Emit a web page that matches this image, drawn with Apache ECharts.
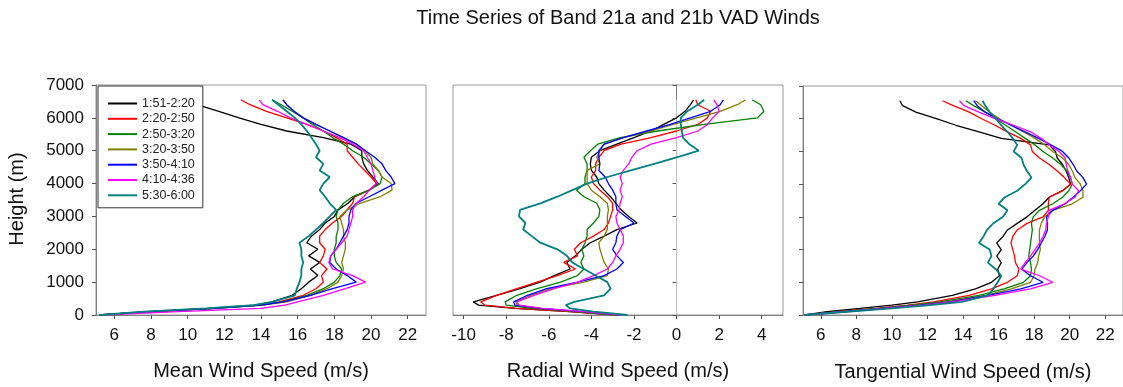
<!DOCTYPE html>
<html>
<head>
<meta charset="utf-8">
<script src="https://cdn.jsdelivr.net/npm/echarts@6/dist/echarts.min.js"></script>
<style>
html,body{margin:0;padding:0;background:#fff;}
#chart{width:1123px;height:387px;}
</style>
</head>
<body>
<div id="chart"></div>
<script>
// Heights (m), top to bottom
const HEIGHTS = [6550, 6400, 6200, 6000, 5800, 5600, 5400, 5200, 5000, 4800, 4600, 4400, 4200, 4000, 3800, 3600, 3400, 3200, 3000, 2800, 2600, 2400, 2200, 2000, 1800, 1600, 1400, 1200, 1000, 800, 600, 400, 300, 200, 100, 0];
const NAMES = ['1:51-2:20', '2:20-2:50', '2:50-3:20', '3:20-3:50', '3:50-4:10', '4:10-4:36', '5:30-6:00'];
const COLORS = ['#000000', '#ff0000', '#008000', '#808000', '#0000ff', '#ff00ff', '#008080'];

const TICKS_SPEED = [6, 8, 10, 12, 14, 16, 18, 20, 22];
const TICKS_RADIAL = [-10, -8, -6, -4, -2, 0, 2, 4];

// Mean wind speed (m/s)
const meanA = [9.7, 10.5, 11.7, 12.8, 14.0, 15.4, 17.4, 18.9, 19.5, 19.5, 19.6, 19.8, 20.1, 20.4, 19.9, 19.1, 18.75, 18.2, 18.0, 17.5, 17.2, 16.75, 16.5, 17.1, 16.6, 17.2, 16.7, 17.1, 16.6, 16.2, 15.7, 14.6, 13.7, 11.1, 7.8, 5.2];
const meanB = [12.9, 13.4, 14.3, 15.4, 16.5, 17.4, 18.1, 18.7, 18.7, 19.0, 19.3, 19.65, 20.0, 20.3, 19.9, 19.1, 19.0, 18.7, 18.4, 17.9, 17.5, 17.2, 17.2, 17.5, 17.4, 17.2, 17.6, 17.3, 17.4, 17.0, 16.3, 15.0, 13.9, 11.3, 8.0, 5.2];
const meanC = [14.6, 15.1, 15.7, 16.3, 16.8, 17.4, 17.9, 18.5, 19.0, 19.6, 20.0, 20.4, 20.6, 20.5, 19.9, 19.0, 18.5, 18.2, 18.1, 18.2, 18.2, 18.1, 18.1, 18.0, 18.0, 18.1, 18.4, 18.3, 18.0, 17.4, 16.5, 15.2, 14.0, 11.5, 8.1, 5.2];
const meanD = [15.2, 15.4, 15.8, 16.3, 17.0, 17.75, 18.5, 19.2, 19.65, 20.0, 20.1, 20.4, 20.6, 21.1, 21.15, 20.5, 19.4, 18.7, 18.3, 18.4, 18.5, 18.5, 18.6, 18.6, 18.5, 18.4, 18.5, 18.4, 18.2, 17.6, 16.7, 15.4, 14.1, 11.6, 8.3, 5.2];
const meanE = [15.2, 15.4, 15.8, 16.3, 17.0, 17.75, 18.5, 19.2, 19.7, 20.2, 20.6, 20.8, 21.1, 21.3, 20.6, 19.9, 19.2, 18.9, 18.8, 18.8, 18.7, 18.5, 18.3, 18.1, 17.8, 17.75, 18.1, 18.7, 19.2, 17.9, 16.7, 15.2, 14.0, 11.5, 8.0, 5.2];
const meanF = [13.9, 14.1, 14.9, 15.6, 16.5, 17.4, 18.3, 19.0, 19.6, 19.8, 20.0, 20.1, 20.2, 20.3, 19.9, 19.6, 19.2, 19.0, 19.0, 18.9, 18.8, 18.7, 18.4, 18.1, 17.8, 17.7, 17.9, 19.0, 19.7, 18.6, 17.4, 16.0, 15.3, 14.0, 9.5, 5.2];
const meanG = [14.6, 14.95, 15.4, 15.85, 16.2, 16.5, 16.75, 17.0, 17.2, 17.0, 17.4, 17.2, 17.75, 17.4, 17.2, 17.5, 17.75, 18.1, 17.75, 17.4, 17.0, 16.6, 16.1, 16.2, 16.2, 16.3, 16.2, 16.2, 16.1, 15.95, 15.85, 14.6, 13.6, 11.0, 7.6, 5.2];

// Radial wind speed (m/s)
const radA = [0.8, 0.65, 0.4, 0.0, -0.6, -1.2, -2.0, -2.8, -3.6, -4.0, -4.05, -4.0, -3.75, -3.65, -3.4, -3.1, -2.85, -2.6, -2.25, -1.85, -2.8, -3.4, -4.05, -4.45, -4.75, -5.15, -5.0, -5.75, -6.4, -7.35, -8.45, -9.55, -9.3, -7.6, -5.0, -2.8];
const radB = [0.9, 1.0, 1.6, 1.45, 1.0, 0.0, -1.2, -2.6, -3.4, -3.65, -3.8, -3.8, -4.0, -3.9, -3.6, -3.25, -3.0, -3.0, -3.1, -3.2, -3.4, -3.9, -4.5, -4.8, -4.65, -5.3, -4.75, -5.6, -6.55, -7.5, -8.45, -9.2, -9.0, -7.5, -5.0, -2.8];
const radC = [3.55, 3.95, 4.1, 3.8, 1.3, -0.9, -2.65, -3.7, -4.05, -4.35, -4.2, -4.2, -4.3, -4.3, -4.7, -4.35, -3.75, -3.6, -3.65, -3.9, -4.2, -4.2, -4.3, -4.45, -4.35, -4.5, -4.35, -4.65, -5.45, -6.55, -7.5, -8.05, -8.0, -6.8, -4.7, -2.8];
const radD = [3.25, 2.85, 2.05, 0.95, -0.15, -1.2, -2.5, -3.4, -3.6, -3.75, -3.6, -4.2, -4.2, -4.2, -4.0, -3.6, -3.25, -3.2, -3.25, -3.25, -3.25, -3.4, -3.65, -3.6, -3.5, -3.4, -3.2, -3.25, -4.35, -5.9, -6.85, -7.55, -7.5, -6.5, -4.5, -2.8];
const radE = [2.2, 2.05, 1.6, 0.65, -0.3, -1.4, -2.5, -3.4, -3.65, -3.65, -3.6, -3.65, -3.35, -3.2, -3.0, -2.85, -2.85, -2.8, -2.4, -2.0, -2.65, -2.8, -2.85, -3.0, -2.8, -2.5, -2.8, -3.4, -4.65, -6.1, -7.0, -7.65, -7.6, -6.4, -4.4, -2.6];
const radF = [1.75, 1.9, 2.0, 1.7, 1.45, 1.0, 0.0, -1.2, -1.85, -2.1, -2.25, -2.5, -2.65, -2.55, -2.65, -2.55, -2.65, -2.7, -2.85, -2.8, -2.65, -2.5, -2.5, -2.65, -2.85, -3.0, -3.25, -3.9, -4.65, -5.75, -6.7, -7.5, -7.4, -6.3, -4.3, -2.6];
const radG = [1.3, 1.0, 0.5, 0.2, 0.2, 0.25, 0.3, 0.6, 1.05, 0.0, -1.05, -2.15, -3.25, -4.2, -4.9, -5.6, -6.4, -7.35, -7.4, -7.1, -7.2, -6.8, -6.4, -5.6, -5.15, -4.9, -4.35, -3.8, -3.25, -3.1, -3.4, -4.8, -5.2, -5.0, -3.9, -2.3];
// zero reference line of the radial panel: [x, bottom height, top height]
const RADIAL_ZERO = [0, 0, 6550];

// Tangential wind speed (m/s)
const tanA = [10.45, 10.6, 11.35, 12.5, 13.6, 14.9, 16.15, 18.85, 19.2, 19.3, 19.6, 19.8, 19.95, 20.05, 19.6, 18.85, 18.5, 18.05, 17.6, 17.05, 16.5, 16.25, 15.9, 16.15, 15.9, 16.15, 15.95, 16.05, 15.6, 14.7, 13.4, 11.45, 10.0, 8.2, 6.35, 5.1];
const tanB = [12.85, 13.45, 14.35, 15.05, 15.8, 16.5, 17.25, 17.8, 17.9, 18.3, 18.85, 19.3, 19.7, 20.05, 19.6, 18.85, 18.8, 18.8, 18.5, 17.6, 17.05, 16.8, 16.7, 16.8, 16.9, 16.95, 17.15, 17.05, 16.5, 15.6, 14.35, 12.35, 10.9, 9.1, 6.9, 5.1];
const tanC = [14.15, 14.6, 15.25, 15.85, 16.4, 16.95, 17.5, 18.05, 18.5, 19.05, 19.5, 19.85, 20.05, 20.15, 19.95, 19.6, 19.05, 18.3, 17.95, 17.85, 17.9, 17.85, 17.8, 17.75, 17.7, 17.8, 17.85, 17.8, 17.4, 16.3, 14.9, 12.7, 11.1, 9.25, 7.1, 5.1];
const tanD = [14.7, 15.05, 15.5, 16.05, 16.7, 17.4, 18.05, 18.6, 19.05, 19.6, 19.95, 20.15, 20.3, 20.6, 20.75, 20.75, 20.15, 19.05, 18.6, 18.4, 18.3, 18.3, 18.3, 18.35, 18.25, 18.2, 18.05, 18.0, 17.8, 16.7, 15.25, 13.05, 11.45, 9.45, 7.25, 5.1];
const tanE = [14.6, 14.8, 15.25, 15.95, 16.7, 17.5, 18.25, 18.95, 19.6, 19.95, 20.2, 20.4, 20.75, 20.95, 20.6, 20.2, 19.75, 19.05, 18.7, 18.75, 18.75, 18.6, 18.4, 18.2, 17.95, 17.6, 17.3, 17.8, 18.5, 17.25, 15.4, 13.25, 11.6, 9.45, 7.25, 5.1];
const tanF = [13.8, 14.05, 14.9, 15.8, 16.85, 17.8, 18.4, 18.85, 19.4, 19.75, 19.8, 19.9, 20.05, 20.15, 20.5, 20.3, 19.7, 18.85, 18.8, 18.7, 18.65, 18.5, 18.3, 18.05, 17.8, 17.5, 17.25, 18.3, 19.05, 17.8, 15.8, 13.4, 11.8, 9.6, 7.45, 5.1];
const tanG = [15.1, 15.25, 15.5, 15.85, 16.15, 16.5, 16.8, 17.05, 16.85, 17.3, 17.4, 17.6, 17.85, 17.5, 17.05, 16.35, 16.0, 16.5, 16.25, 15.7, 15.35, 15.15, 14.9, 15.5, 15.6, 15.4, 15.85, 16.15, 15.95, 15.7, 15.4, 13.95, 12.15, 10.0, 7.45, 5.1];

const MEAN = [meanA, meanB, meanC, meanD, meanE, meanF, meanG];
const RADIAL = [radA, radB, radC, radD, radE, radF, radG];
const TANG = [tanA, tanB, tanC, tanD, tanE, tanF, tanG];

const FONT = '"Liberation Sans", Arial, sans-serif';

function makeSeries(arr, i, panel) {
  return {
    name: NAMES[i],
    type: 'line',
    xAxisIndex: panel,
    yAxisIndex: panel,
    data: HEIGHTS.map((h, k) => [arr[k], h]),
    symbol: 'none',
    smooth: false,
    lineStyle: { color: COLORS[i], width: i === 6 ? 1.8 : 1.3 },
    itemStyle: { color: COLORS[i] },
    emphasis: { disabled: true }
  };
}

function xAxisCfg(grid, min, max, ticks, name, gap) {
  return {
    type: 'value', gridIndex: grid, min: min, max: max,
    name: name, nameLocation: 'middle', nameGap: gap,
    nameTextStyle: { fontSize: 20, fontFamily: FONT, color: '#111' },
    axisLine: { show: true, lineStyle: { color: '#808080', width: 1 } },
    axisTick: { show: true, inside: false, length: 4, customValues: ticks, lineStyle: { color: '#555' } },
    axisLabel: { show: true, customValues: ticks, margin: 12, fontSize: 17, fontFamily: FONT, color: '#111',
      formatter: function (v) { return String(v); } },
    splitLine: { show: false }
  };
}

function yAxisCfg(grid, showLabels) {
  return {
    type: 'value', gridIndex: grid, min: 0, max: 7000, interval: 1000,
    axisLine: { show: true, lineStyle: { color: '#808080', width: 1 } },
    axisTick: { show: true, inside: false, length: 4, lineStyle: { color: '#555' } },
    axisLabel: { show: showLabels, margin: 12, fontSize: 17, fontFamily: FONT, color: '#111',
      formatter: function (v) { return String(v); } },
    splitLine: { show: false }
  };
}

const series = [];
MEAN.forEach((a, i) => series.push(makeSeries(a, i, 0)));
series.push({
  name: 'zero', type: 'line', xAxisIndex: 1, yAxisIndex: 1, symbol: 'none',
  data: [[RADIAL_ZERO[0], RADIAL_ZERO[1]], [RADIAL_ZERO[0], RADIAL_ZERO[2]]],
  lineStyle: { color: '#c8c8c8', width: 1 }, z: 1, emphasis: { disabled: true }
});
RADIAL.forEach((a, i) => series.push(makeSeries(a, i, 1)));
TANG.forEach((a, i) => series.push(makeSeries(a, i, 2)));

const chart = echarts.init(document.getElementById('chart'), null, { renderer: 'canvas' });
chart.setOption({
  animation: false,
  backgroundColor: '#ffffff',
  grid: [
    { left: 96, top: 85, width: 330, height: 230, show: true, borderColor: '#999', borderWidth: 1 },
    { left: 453, top: 85, width: 330, height: 230, show: true, borderColor: '#999', borderWidth: 1 },
    { left: 803, top: 86, width: 331, height: 233, show: true, borderColor: '#999', borderWidth: 1 }
  ],
  xAxis: [
    xAxisCfg(0, 5, 23, TICKS_SPEED, 'Mean Wind Speed (m/s)', 46),
    xAxisCfg(1, -10.5, 5, TICKS_RADIAL, 'Radial Wind Speed (m/s)', 46),
    xAxisCfg(2, 5, 23, TICKS_SPEED, 'Tangential Wind Speed (m/s)', 47)
  ],
  yAxis: [yAxisCfg(0, true), yAxisCfg(1, false), yAxisCfg(2, false)],
  legend: {
    data: NAMES,
    left: 98, top: 86, orient: 'vertical',
    backgroundColor: '#fff', borderColor: '#333', borderWidth: 1,
    padding: [11, 8, 6, 10],
    itemWidth: 29, itemHeight: 2, itemGap: 2.3, icon: 'rect',
    textStyle: { fontSize: 12.5, fontFamily: FONT, color: '#222', lineHeight: 13 },
    selectedMode: false
  },
  graphic: [
    { type: 'text', x: 618, y: 18, silent: true,
      style: { text: 'Time Series of Band 21a and 21b VAD Winds', font: '20px ' + FONT, fill: '#111', textAlign: 'center', textVerticalAlign: 'middle' } },
    { type: 'text', x: 17, y: 199, rotation: Math.PI / 2, silent: true,
      style: { text: 'Height (m)', font: '20px ' + FONT, fill: '#111', textAlign: 'center', textVerticalAlign: 'middle' } }
  ],
  series: series
});
</script>
</body>
</html>
